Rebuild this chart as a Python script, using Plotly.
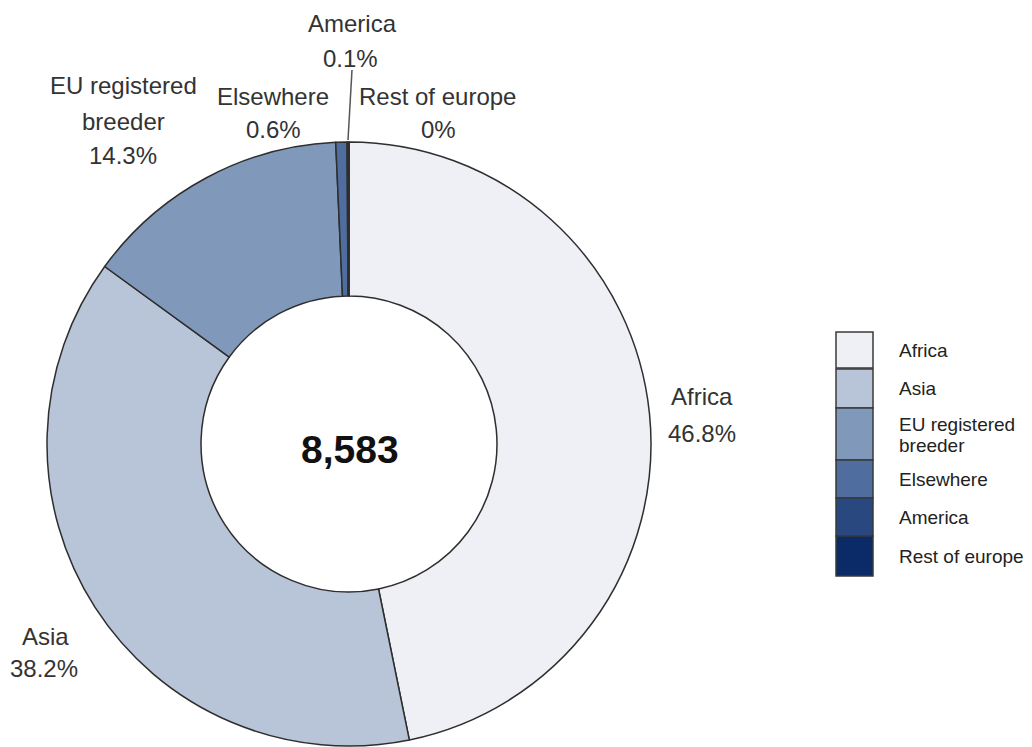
import plotly.graph_objects as go

# Share of total by origin
labels = ["Africa", "Asia", "EU registered breeder", "Elsewhere", "America", "Rest of europe"]
shares = [46.8, 38.2, 14.3, 0.6, 0.1, 0.0]
pct_text = ["46.8%", "38.2%", "14.3%", "0.6%", "0.1%", "0%"]
colors = ["#eef0f6", "#b8c4d8", "#8099bb", "#4f6e9f", "#2a4880", "#0b2a68"]
total_label = "8,583"

W, H = 1032, 747
FONT = "Liberation Sans, Arial, sans-serif"
TXT = "#333333"

fig = go.Figure()
fig.add_trace(go.Pie(
    labels=labels,
    values=shares,
    hole=0.49,
    sort=False,
    direction="clockwise",
    rotation=0,
    marker=dict(colors=colors, line=dict(color="#2e2e2e", width=1.5)),
    textinfo="none",
    hoverinfo="label+percent",
    showlegend=False,
    domain=dict(x=[47 / W, 651 / W], y=[1 - 746 / H, 1 - 142 / H]),
))


def px(x):
    return x / W


def py(y):
    return 1 - y / H


annotations = []


def add_text(x, y, s, size=24, bold=False, color=TXT, anchor="center"):
    annotations.append(dict(
        x=px(x), y=py(y), xref="paper", yref="paper", text=f"<b>{s}</b>" if bold else s,
        showarrow=False, xanchor=anchor, yanchor="middle",
        font=dict(family=FONT, size=size, color=color),
    ))


# Slice labels: name line(s) followed by the percentage
name_lines = {
    "Africa": [("Africa", 702, 396)],
    "Asia": [("Asia", 45, 636)],
    "EU registered breeder": [("EU registered", 123, 86), ("breeder", 123, 121)],
    "Elsewhere": [("Elsewhere", 273, 96)],
    "America": [("America", 352, 24)],
    "Rest of europe": [("Rest of europe", 437, 96)],
}
pct_pos = {
    "Africa": (702, 433),
    "Asia": (44, 668),
    "EU registered breeder": (123, 156),
    "Elsewhere": (273, 130),
    "America": (350, 59),
    "Rest of europe": (438, 130),
}
for name, pct in zip(labels, pct_text):
    for part, x, y in name_lines[name]:
        add_text(x, y, part)
    add_text(*pct_pos[name], pct)

# Centre total
add_text(350, 449, total_label, size=39, bold=True, color="#111111")

shapes = []
# Leader line for the thin America slice
shapes.append(dict(type="line", xref="paper", yref="paper",
                   x0=px(348), y0=py(140), x1=px(352), y1=py(70),
                   line=dict(color="#555555", width=1.5)))

# Stacked legend swatches
legend_rows = [(332, 368), (369, 408), (408, 460), (460, 498), (498, 536), (536, 576)]
for name, color, (y0, y1) in zip(labels, colors, legend_rows):
    shapes.append(dict(type="rect", xref="paper", yref="paper",
                       x0=px(836), x1=px(873), y0=py(y0), y1=py(y1),
                       fillcolor=color, line=dict(color="#3a3a3a", width=1.5)))
    yc = (y0 + y1) / 2
    if name == "EU registered breeder":
        add_text(897, yc - 9.5, "EU registered", size=19, color="#222222", anchor="left")
        add_text(897, yc + 11, "breeder", size=19, color="#222222", anchor="left")
    else:
        add_text(897, yc, name, size=19, color="#222222", anchor="left")

fig.update_layout(
    width=W, height=H,
    margin=dict(l=0, r=0, t=0, b=0),
    paper_bgcolor="white",
    plot_bgcolor="white",
    annotations=annotations,
    shapes=shapes,
)

fig.write_html("out.html")
